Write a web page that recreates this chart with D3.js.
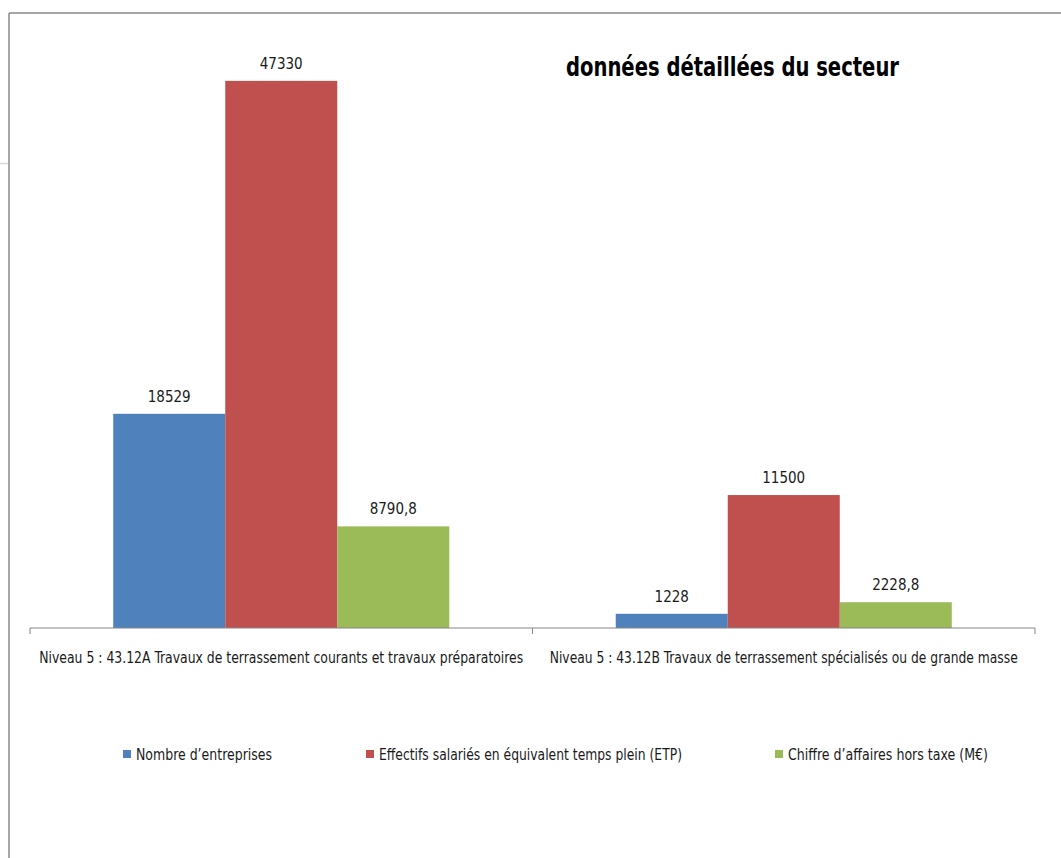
<!DOCTYPE html>
<html>
<head>
<meta charset="utf-8">
<script src="https://cdn.jsdelivr.net/npm/d3@7"></script>
<style>
  body { margin: 0; background: #fff; }
  text { font-family: "Liberation Sans Narrow", "DejaVu Sans Condensed", "Open Sans", sans-serif; fill: #1a1a1a; }
</style>
</head>
<body>
<div id="viz"></div>
<script>
const width = 1061;
const height = 858;

// data
const categories = [
  'Niveau 5 : 43.12A Travaux de terrassement courants et travaux préparatoires',
  'Niveau 5 : 43.12B Travaux de terrassement spécialisés ou de grande masse'
];
const seriesNames = [
  'Nombre d\u2019entreprises',
  'Effectifs salariés en équivalent temps plein (ETP)',
  'Chiffre d\u2019affaires hors taxe (M\u20ac)'
];
const seriesColors = ['#4F81BD', '#C0504D', '#9BBB59'];
const nombre = [18529, 1228];
const effectifs = [47330, 11500];
const chiffre = [8790.8, 2228.8];
const valueLabels = [['18529', '1228'], ['47330', '11500'], ['8790,8', '2228,8']];

const series = [nombre, effectifs, chiffre];

const svg = d3.select('#viz')
  .append('svg')
    .attr('width', width)
    .attr('height', height);

// frame of the chart area (only left and top edges are visible)
svg.append('line').attr('x1', 9).attr('x2', 9).attr('y1', 13).attr('y2', height)
  .attr('stroke', '#8a8a8a').attr('stroke-width', 1.5);
svg.append('line').attr('x1', 9).attr('x2', width).attr('y1', 13).attr('y2', 13)
  .attr('stroke', '#8a8a8a').attr('stroke-width', 1.5);
svg.append('line').attr('x1', 0).attr('x2', 8).attr('y1', 163.5).attr('y2', 163.5)
  .attr('stroke', '#d9d9d9').attr('stroke-width', 1.5);

// scales
const x0 = d3.scaleBand()
  .domain(categories)
  .range([30, 1035])
  .padding(0);

const x1 = d3.scaleBand()
  .domain(d3.range(seriesNames.length))
  .range([0, x0.bandwidth()])
  .paddingInner(0)
  .paddingOuter(0.743);

const y = d3.scaleLinear()
  .domain([0, 50000])
  .range([628, 50]);

// bars
const group = svg.selectAll('g.cat')
  .data(categories)
  .join('g')
    .attr('class', 'cat')
    .attr('transform', d => `translate(${x0(d)},0)`);

group.each(function(cat, ci) {
  const g = d3.select(this);
  series.forEach((s, si) => {
    g.append('rect')
      .attr('x', x1(si))
      .attr('y', y(s[ci]))
      .attr('width', x1.bandwidth())
      .attr('height', y(0) - y(s[ci]))
      .attr('fill', seriesColors[si]);
    g.append('text')
      .attr('x', x1(si) + x1.bandwidth() / 2)
      .attr('y', y(s[ci]) - 12)
      .attr('text-anchor', 'middle')
      .style('font-size', '15px')
      .text(valueLabels[si][ci]);
  });
});

// x axis
const xAxis = svg.append('g')
  .attr('transform', `translate(0,${y(0)})`);
xAxis.append('line')
  .attr('x1', x0.range()[0]).attr('x2', x0.range()[1])
  .attr('stroke', '#868686');
const tickPos = categories.map(c => x0(c)).concat([x0.range()[1]]);
xAxis.selectAll('line.tick')
  .data(tickPos)
  .join('line')
    .attr('class', 'tick')
    .attr('x1', d => d).attr('x2', d => d)
    .attr('y1', 0).attr('y2', 6)
    .attr('stroke', '#868686');
const catWidths = [484, 468];
xAxis.selectAll('text')
  .data(categories)
  .join('text')
    .attr('x', d => x0(d) + x0.bandwidth() / 2)
    .attr('y', 35)
    .attr('text-anchor', 'middle')
    .attr('textLength', (d, i) => catWidths[i])
    .attr('lengthAdjust', 'spacingAndGlyphs')
    .style('font-size', '15px')
    .text(d => d);

// title
svg.append('text')
  .attr('x', 566)
  .attr('y', 76)
  .attr('textLength', 333)
  .attr('lengthAdjust', 'spacingAndGlyphs')
  .style('font-size', '27px')
  .style('font-weight', 'bold')
  .style('fill', '#000')
  .text('données détaillées du secteur');

// legend
const legendX = [123, 366, 775];
const legendW = [136, 303, 200];
const legend = svg.selectAll('g.legend')
  .data(seriesNames)
  .join('g')
    .attr('class', 'legend')
    .attr('transform', (d, i) => `translate(${legendX[i]},754)`);
legend.append('rect')
  .attr('x', 0).attr('y', -4)
  .attr('width', 8).attr('height', 8)
  .attr('fill', (d, i) => seriesColors[i]);
legend.append('text')
  .attr('x', 13)
  .attr('y', 5.5)
  .attr('textLength', (d, i) => legendW[i])
  .attr('lengthAdjust', 'spacingAndGlyphs')
  .style('font-size', '15px')
  .text(d => d);
</script>
</body>
</html>
